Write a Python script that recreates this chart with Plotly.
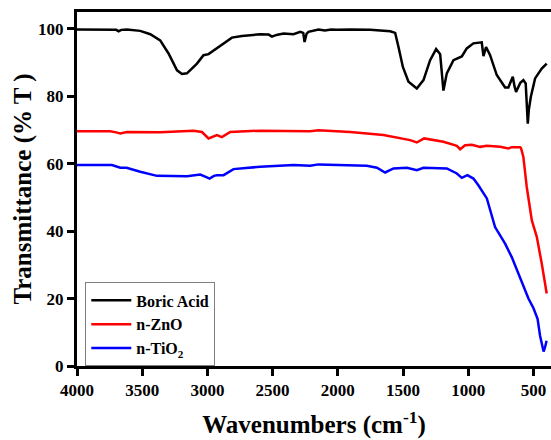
import plotly.graph_objects as go

# Boric Acid
ba_wn = [4000, 3850, 3700, 3681, 3660, 3617, 3515, 3438, 3362, 3298, 3233, 3195, 3157, 3080, 3030,
         2991, 2940, 2876, 2812, 2735, 2672, 2595, 2530, 2505, 2470, 2416, 2340, 2288, 2265, 2255,
         2240, 2225, 2148, 2100, 2050, 2007, 1900, 1752, 1598, 1560, 1535, 1501, 1458, 1394, 1343,
         1292, 1246, 1215, 1190, 1164, 1113, 1075, 1049, 1011, 960, 896, 890, 883, 863, 832, 781,
         717, 692, 670, 658, 645, 633, 600, 577, 559, 551, 543, 535, 520, 487, 436, 398]
ba_t = [99.8, 99.8, 99.7, 99.3, 99.7, 99.8, 99.4, 98.4, 96.6, 92.7, 87.7, 86.6, 86.8, 89.7, 92.2,
        92.5, 93.9, 95.7, 97.4, 97.9, 98.1, 98.4, 98.3, 97.7, 98.2, 98.6, 98.4, 99.1, 98.8, 96.1,
        98.5, 99.1, 99.8, 99.5, 99.8, 99.7, 99.8, 99.7, 99.3, 98.8, 94.7, 88.7, 84.3, 82.3, 84.8,
        90.7, 94.0, 92.5, 81.7, 86.8, 90.7, 91.5, 91.8, 94.2, 95.7, 96.0, 94.5, 91.9, 94.6, 92.2, 86.3,
        82.6, 82.6, 85.0, 85.8, 83.0, 81.3, 84.0, 84.8, 83.8, 78.0, 71.9, 76.0, 79.8, 85.3, 88.2, 89.7]

# n-ZnO
zn_wn = [4000, 3745, 3700, 3668, 3617, 3362, 3106, 3042, 2991, 2960, 2927, 2889, 2825, 2595, 2212,
         2148, 1905, 1650, 1445, 1394, 1338, 1190, 1087, 1062, 1024, 972, 909, 857, 755, 692, 666,
         602, 595, 577, 551, 512, 474, 436, 398]
zn_t = [69.6, 69.6, 69.3, 69.0, 69.4, 69.3, 69.8, 69.4, 67.5, 68.0, 68.5, 67.9, 69.4, 69.8, 69.6,
        69.9, 69.4, 68.5, 67.0, 66.3, 67.5, 66.5, 65.3, 64.3, 65.5, 65.6, 65.0, 65.3, 65.0, 64.5, 64.9,
        64.9, 64.6, 62.0, 53.1, 43.2, 38.3, 30.4, 21.5]

# n-TiO2
ti_wn = [4000, 3732, 3668, 3620, 3515, 3387, 3157, 3055, 3017, 2983, 2950, 2927, 2876, 2800, 2595,
         2340, 2212, 2148, 1777, 1700, 1637, 1573, 1470, 1394, 1343, 1164, 1087, 1049, 1006, 960,
         922, 888, 857, 794, 717, 666, 602, 538, 500, 468, 449, 430, 422, 411, 399]
ti_t = [59.6, 59.6, 58.8, 58.8, 57.6, 56.4, 56.3, 56.8, 56.2, 55.6, 56.4, 56.6, 56.6, 58.4, 59.1,
        59.6, 59.4, 59.8, 59.4, 58.8, 57.4, 58.6, 58.8, 58.1, 58.8, 58.6, 57.1, 55.8, 56.6, 55.6,
        53.6, 51.5, 49.7, 41.2, 36.3, 32.3, 26.4, 20.0, 17.2, 14.0, 9.0, 5.0, 4.3, 5.5, 7.5]

names = ["<b>Boric Acid</b>", "<b>n-ZnO</b>", "<b>n-TiO<sub>2</sub></b>"]
colors = ["#000000", "#ff0000", "#0000ff"]

x_ticks = [4000, 3500, 3000, 2500, 2000, 1500, 1000, 500]
y_ticks = [0, 20, 40, 60, 80, 100]

FONT = "Liberation Serif"

fig = go.Figure()
for wn, t, nm, c in [(ba_wn, ba_t, names[0], colors[0]),
                     (zn_wn, zn_t, names[1], colors[1]),
                     (ti_wn, ti_t, names[2], colors[2])]:
    fig.add_trace(go.Scatter(x=wn, y=t, mode="lines", name=nm,
                             line=dict(color=c, width=2.5)))

fig.update_layout(
    width=551, height=440,
    margin=dict(l=77, r=0, t=12, b=74),
    paper_bgcolor="white", plot_bgcolor="white",
    font=dict(family=FONT, color="black"),
    legend=dict(x=0.0175, y=0.236, xanchor="left", yanchor="top",
                bordercolor="#808080", borderwidth=1, bgcolor="white",
                itemwidth=40, tracegroupgap=0,
                font=dict(family=FONT, size=16, color="black")),
    showlegend=True,
)
fig.update_xaxes(range=[4000, 365], tickvals=x_ticks,
                 ticktext=["<b>%d</b>" % v for v in x_ticks],
                 showgrid=False, zeroline=False,
                 showline=True, linewidth=3, linecolor="black", mirror=True,
                 ticks="outside", ticklen=7, tickwidth=2.5, tickcolor="black",
                 tickfont=dict(family=FONT, size=17, color="black"),
                 title=dict(text="<b>Wavenumbers (cm<sup>-1</sup>)</b>", standoff=17,
                            font=dict(family=FONT, size=25, color="black")))
fig.update_yaxes(range=[0, 105], tickvals=y_ticks,
                 ticktext=["<b>%d</b>" % v for v in y_ticks],
                 showgrid=False, zeroline=False,
                 showline=True, linewidth=3, linecolor="black", mirror=False,
                 ticks="outside", ticklen=7, tickwidth=2.5, tickcolor="black",
                 tickfont=dict(family=FONT, size=17, color="black"),
                 title=dict(text="<b>Transmittance (% T )</b>", standoff=0,
                            font=dict(family=FONT, size=25, color="black")))

fig.write_html("out.html")
